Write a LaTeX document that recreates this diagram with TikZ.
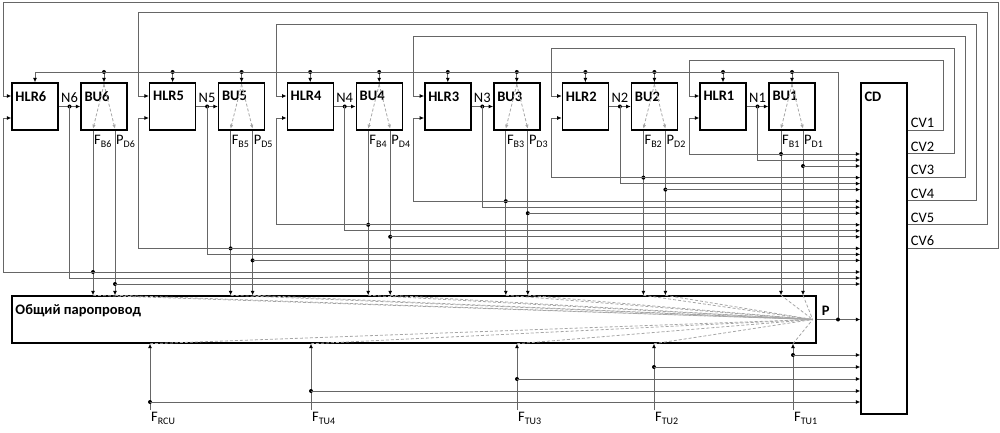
\documentclass[tikz,border=0pt]{standalone}
\usepackage{fontspec}
\setmainfont{Carlito}
\usetikzlibrary{calc}
\usetikzlibrary{positioning}
\usetikzlibrary{arrows.meta}

\newcommand{\lowidx}[1]{\raisebox{-3pt}{\fontsize{10}{11}\selectfont #1}}

\tikzset{
  lbl/.style={font=\bfseries\fontsize{14.5}{16}\selectfont, inner sep=0pt},
  txt/.style={font=\fontsize{14.5}{16}\selectfont, inner sep=0pt},
  blk/.style={draw, line width=1.4pt, minimum width=46pt, minimum height=47pt, inner sep=0pt,
    label={[lbl, anchor=north west, xshift=4pt, yshift=-9pt]north west:#1}},
  conn/.style={draw=black!60, line width=0.8pt},
  dsh/.style={draw=black!35, line width=0.8pt, dash pattern=on 3pt off 2pt,
    >={Latex[length=4pt,width=3.5pt]}},
  >={Latex[length=4.5pt,width=4pt,color=black]},
}

\begin{document}
\begin{tikzpicture}[x=1pt,y=-1pt]
    \useasboundingbox (0,0) rectangle (1000,433);
    % coordinator and common steam line
    \node[blk=CD, minimum height=331pt] (cd) at (884,248.5) {};
    \node[blk=Общий паропровод, minimum width=804pt] (steam) at (414,319.5) {};
    \coordinate (pin) at ([xshift=-4pt]steam.east);
    \coordinate (pj) at (838,319.5);
    \coordinate (bus) at (0,72);
    % boiler groups
    \foreach \i/\k in {6/0,5/1,4/2,3/3,2/4,1/5}{
        \pgfmathsetmacro\xh{12+137.6*\k}
        \pgfmathsetmacro\xl{\k==0 ? 3 : \xh-11}
        \pgfmathsetmacro\yt{\k==0 ? 2 : 12*\k}
        \pgfmathsetmacro\xr{932+11*\i}
        \pgfmathsetmacro\yc{130+23.6*(\i-1)}
        \pgfmathsetmacro\yf{154+23.6*(\i-1)}
        \node[blk=HLR\i] (hlr\i) at (\xh+23,106.5) {};
        \node[blk=BU\i] (bu\i) at (\xh+92,106.5) {};
        \coordinate (nj\i) at ($(hlr\i.east)!0.5!(bu\i.west)$);
        \coordinate (fb\i) at ([xshift=-11pt]bu\i.south);
        \coordinate (pd\i) at ([xshift=11pt]bu\i.south);
        \coordinate (lvF\i) at (0,\yf);
        \coordinate (lvN\i) at (0,\yf+6);
        \coordinate (lvP\i) at (0,\yf+12);
        \coordinate (lvC\i) at (0,\yc);
        \coordinate (cvo\i) at (cd.east |- lvC\i);
        \coordinate (fbj\i) at (fb\i |- lvF\i);
        \coordinate (pdj\i) at (pd\i |- lvP\i);
        % load N
        \draw[conn,->] (hlr\i.east) -- (bu\i.west);
        \fill (nj\i) circle (2pt);
        \node[txt, anchor=south] (nl\i) at ([yshift=4pt]nj\i) {N\i};
        \draw[conn,->] (nj\i) |- (cd.west |- lvN\i);
        % flow and pressure
        \draw[conn,->] (fb\i) -- (fb\i |- steam.north);
        \draw[conn,->] (pd\i) -- (pd\i |- steam.north);
        \node[txt, anchor=north west] (fl\i) at ([shift={(1pt,-4pt)}]fb\i) {F\lowidx{B\i}};
        \node[txt, anchor=north west] (pl\i) at ([shift={(1pt,-4pt)}]pd\i) {P\lowidx{D\i}};
        \fill (fbj\i) circle (2pt);
        \fill (pdj\i) circle (2pt);
        \draw[conn,->] (fbj\i) -- (cd.west |- fbj\i);
        \draw[conn,->] (pdj\i) -- (cd.west |- pdj\i);
        \draw[conn,->] (fbj\i) -- (\xl,\yf) |- ([yshift=-11.5pt]hlr\i.west);
        % control value
        \draw[conn,->] (cvo\i) -- (\xr,\yc) -- (\xr,\yt) -- (\xl,\yt) |- ([yshift=10.5pt]hlr\i.west);
        \node[txt, anchor=south west] (cv\i) at ([shift={(3pt,2pt)}]cvo\i) {CV\i};
        % header pressure in
        \draw[conn,->] (hlr\i.north |- bus) -- (hlr\i.north);
        \draw[conn,->] (bu\i.north |- bus) -- (bu\i.north);
        \fill (bu\i.north |- bus) circle (2pt);
        \ifnum\i<6 \fill (hlr\i.north |- bus) circle (2pt); \fi
        % inside
        \draw[dsh,->] ([yshift=-2pt]bu\i.north) -- ([yshift=2pt]fb\i);
        \draw[dsh,->] ([yshift=-2pt]bu\i.north) -- ([yshift=2pt]pd\i);
        \draw[dsh] (fb\i |- steam.north) -- (pin);
        \draw[dsh] (pd\i |- steam.north) -- (pin);
    }
    % header pressure P
    \draw[conn] (hlr6.north |- bus) -- (pj |- bus) -- (pj);
    \draw[conn,->] (steam.east) -- (cd.west |- steam.east);
    \fill (pj) circle (2pt);
    \node[lbl, anchor=south west] (plbl) at ([shift={(5pt,4pt)}]steam.east) {P};
    % turbines and RCU
    \foreach \x/\y/\s in {150/402/RCU,311/391/TU4,517/379/TU3,654/367/TU2,793/355/TU1}{
        \coordinate (src\s) at (\x,410);
        \coordinate (tap\s) at (\x,\y);
        \draw[conn,->] (src\s) -- (src\s |- steam.south);
        \fill (tap\s) circle (2pt);
        \draw[conn,->] (tap\s) -- (cd.west |- tap\s);
        \draw[dsh] (src\s |- steam.south) -- (pin);
        \node[txt, anchor=north west] (sl\s) at ([shift={(1pt,-2pt)}]src\s) {F\lowidx{\s}};
    }
\end{tikzpicture}
\end{document}
